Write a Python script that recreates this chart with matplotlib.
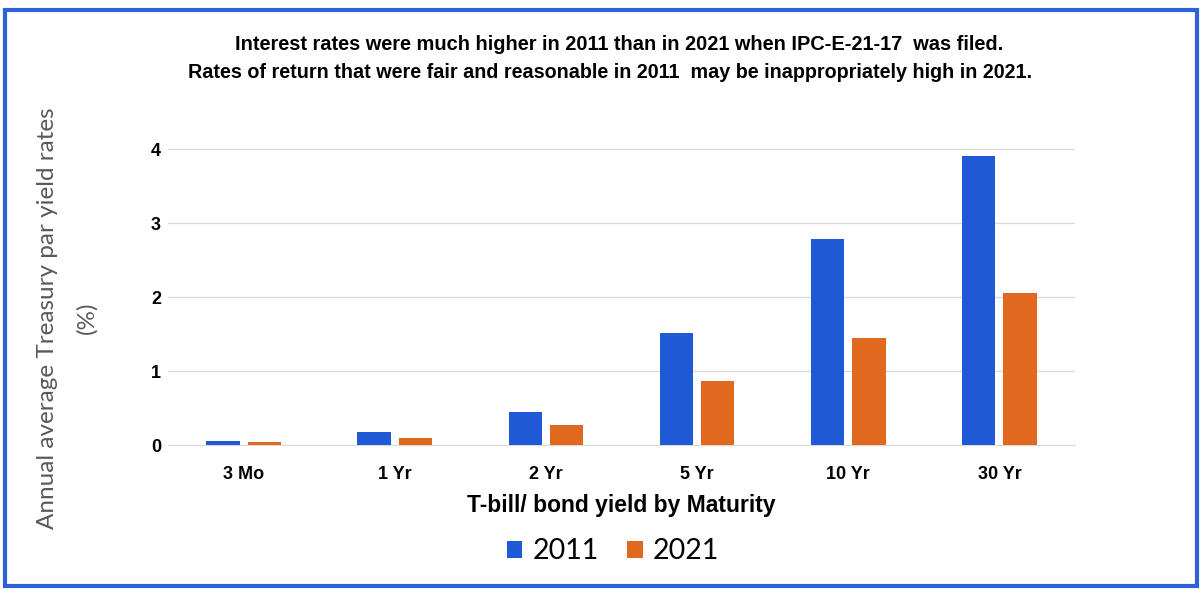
import numpy as np
import matplotlib.pyplot as plt
from matplotlib.patches import Rectangle

maturities = ["3 Mo", "1 Yr", "2 Yr", "5 Yr", "10 Yr", "30 Yr"]
rates_2011 = [0.05, 0.18, 0.45, 1.52, 2.78, 3.91]
rates_2021 = [0.04, 0.10, 0.27, 0.86, 1.44, 2.05]

blue = "#1f59d6"
orange = "#e0681f"
bold_font = ["Liberation Sans", "DejaVu Sans"]

fig = plt.figure(figsize=(12.04, 5.89), dpi=100)
ax = fig.add_axes([168 / 1204, 144 / 589, 907 / 1204, 303.4 / 589])

x = np.arange(len(maturities))
w = 0.22
off = 0.137
ax.bar(x - off, rates_2011, w, color=blue, label="2011", zorder=3)
ax.bar(x + off, rates_2021, w, color=orange, label="2021", zorder=3)

ax.set_xlim(-0.5, len(maturities) - 0.5)
ax.set_ylim(0, 4.1)
ax.set_yticks([0, 1, 2, 3, 4])
ax.grid(axis="y", color="#d9d9d9", linewidth=0.9, zorder=0)
for s in ["top", "right", "left"]:
    ax.spines[s].set_visible(False)
ax.spines["bottom"].set_color("#d9d9d9")
ax.tick_params(length=0)
ax.tick_params(axis="x", pad=15)
ax.tick_params(axis="y", pad=5)

ax.set_xticks(x)
ax.set_xticklabels(maturities, family=bold_font, fontweight="bold", fontsize=13)
for lab in ax.get_yticklabels():
    lab.set_family(bold_font)
    lab.set_fontweight("bold")
    lab.set_fontsize(13)

ax.set_xlabel("T-bill/ bond yield by Maturity", family=bold_font, fontweight="bold",
              fontsize=16.5, labelpad=8)

# y label drawn as figure text so it can sit lower than the axes centre
fig.text(48 / 1204, 1 - 318 / 589, "Annual average Treasury par yield rates",
         rotation=90, ha="center", va="center", family="Lato", fontsize=17.5, color="#595959")
fig.text(87 / 1204, 1 - 318 / 589, "(%)",
         rotation=90, ha="center", va="center", family="Lato", fontsize=17.5, color="#595959")

fig.text(0.514, 0.925, "Interest rates were much higher in 2011 than in 2021 when IPC-E-21-17  was filed.",
         ha="center", va="center", family=bold_font, fontweight="bold", fontsize=14.4)
fig.text(0.507, 0.877, "Rates of return that were fair and reasonable in 2011  may be inappropriately high in 2021.",
         ha="center", va="center", family=bold_font, fontweight="bold", fontsize=14.2)

leg = fig.legend(loc="center", bbox_to_anchor=(0.509, 0.064), ncol=2, frameon=False,
                 prop={"family": "Lato", "size": 20.5}, handlelength=0.55, handleheight=0.55,
                 handletextpad=0.35, columnspacing=1.0)

fig.patches.append(Rectangle((0.004, 0.005), 0.99, 0.978, transform=fig.transFigure,
                             fill=False, edgecolor="#2d62d8", linewidth=3))

fig.savefig("out.png", dpi=100)
